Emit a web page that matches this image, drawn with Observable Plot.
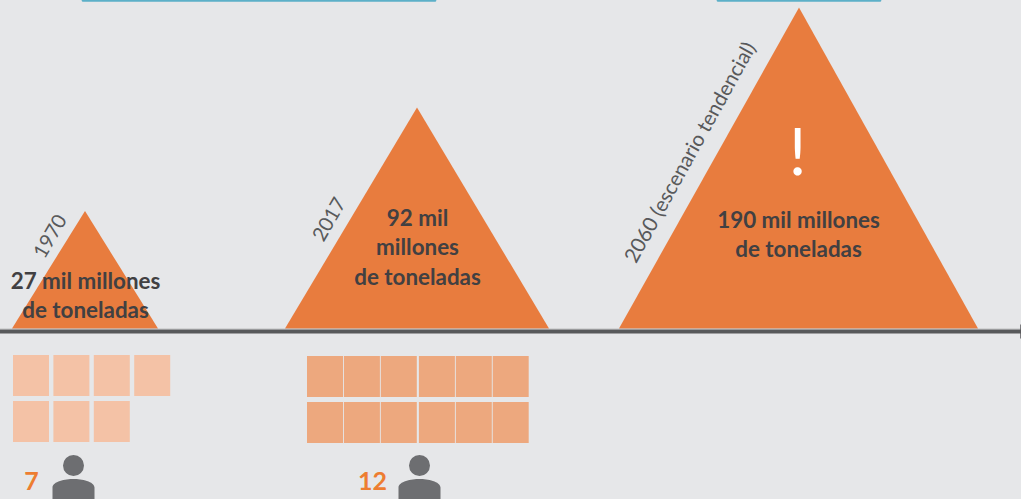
<!DOCTYPE html>
<html lang="es">
<head>
<meta charset="utf-8">
<title>Extracción de materiales y población</title>
<script src="https://cdn.jsdelivr.net/npm/d3@7"></script>
<script src="https://cdn.jsdelivr.net/npm/@observablehq/plot@0.6"></script>
<style>
  html, body { margin: 0; padding: 0; background: #e6e7e9; overflow: hidden; }
  svg { display: block; }
</style>
</head>
<body>
<div id="chart"></div>
<script>
// Extracted materials per period, in thousands of millions of tonnes
const periods = ["1970", "2017", "2060 (escenario tendencial)"];
const tonnes = [27, 92, 190];
const tonneLabels = ["27 mil millones\nde toneladas", "92 mil\nmillones\nde toneladas", "190 mil millones\nde toneladas"];

// World population per period, in thousands of millions
const people = [7, 12];

// Diagram layout, in page units
const pyramidLeft = [12, 285, 619];
const pyramidApex = [85, 417, 799];
const pyramidRight = [158, 549, 978];
const W = 1021, H = 499, splitY = 345;

const FONT = "Lato, 'Open Sans', sans-serif";
const ORANGE = "#e87c3e";
const DARK = "#414042";
const GREY = "#58595b";

const xScale = {domain: [0, W], range: [0, W], axis: null};

// Pyramid outlines: base corner, apex, base corner
const outline = tonnes.flatMap((t, i) => [
  {i, x: pyramidLeft[i], t: 0},
  {i, x: pyramidApex[i], t},
  {i, x: pyramidRight[i], t: 0}
]);

const labelPlacement = [
  {x: 85, dy: 294, size: 22.4, lh: 1.3},
  {x: 417, dy: 245.5, size: 22.4, lh: 1.32},
  {x: 798, dy: 232.5, size: 22.4, lh: 1.3}
];
const periodPlacement = [
  {x: 50, dy: 236, size: 20, angle: -60},
  {x: 329, dy: 219, size: 20, angle: -60},
  {x: 690, dy: 152, size: 20.6, angle: -61}
];

const upperPanel = Plot.plot({
  width: W, height: splitY,
  margin: 0,
  style: {background: "#e6e7e9"},
  x: xScale,
  y: {type: "pow", exponent: 0.515, domain: [0, 190], range: [328.5, 7.5], axis: null},
  marks: [
    // Lower edges of the headings sitting above this panel
    Plot.ruleY([190], {x1: 83, x2: 435, dy: -7.5, stroke: "#5cb0c8", strokeWidth: 2.6, strokeLinecap: "round"}),
    Plot.ruleY([190], {x1: 718, x2: 880, dy: -7.5, stroke: "#5cb0c8", strokeWidth: 2.6, strokeLinecap: "round"}),
    Plot.areaY(outline, {x: "x", y: "t", z: "i", fill: ORANGE, curve: "linear"}),
    // Time axis with its closing tick
    Plot.ruleY([0], {dy: 2.8, stroke: GREY, strokeWidth: 3.4}),
    Plot.ruleY([0], {dy: 0.4, stroke: "#9a9b9d", strokeWidth: 1.2}),
    Plot.ruleX([1020.5], {y1: 0, y2: 0, dy: 3, insetTop: -7, insetBottom: -7, stroke: GREY, strokeWidth: 1.5}),
    ...periods.map((p, i) => Plot.text([p], {
      text: d => d,
      x: () => periodPlacement[i].x,
      frameAnchor: "top",
      dy: periodPlacement[i].dy,
      rotate: periodPlacement[i].angle,
      lineAnchor: "middle",
      fontFamily: FONT,
      fontSize: periodPlacement[i].size,
      fill: GREY
    })),
    ...tonneLabels.map((l, i) => Plot.text([l], {
      text: d => d,
      x: () => labelPlacement[i].x,
      frameAnchor: "top",
      dy: labelPlacement[i].dy,
      lineAnchor: "middle",
      lineHeight: labelPlacement[i].lh,
      fontFamily: FONT,
      fontWeight: 700,
      fontSize: labelPlacement[i].size,
      fill: DARK
    })),
    Plot.text(["!"], {
      text: d => d,
      x: () => 797,
      frameAnchor: "top",
      dy: 153,
      lineAnchor: "middle",
      fontFamily: FONT,
      fontSize: 66,
      fill: "#ffffff"
    })
  ]
});

// One square per thousand million people, filled row by row
const blocks = [
  {originX: 13, originY: 355, pitchX: i => i * 40.4, size: 36, fill: "#f4c2a6", columns: 4},
  {originX: 307, originY: 356, pitchX: i => i * 36.9 + (i >= 3 ? 1.2 : 0), size: 36, fill: "#eda87e", columns: 6}
];
const squares = people.flatMap((count, g) => d3.range(count).map(i => {
  const b = blocks[g];
  const col = i % b.columns, row = Math.floor(i / b.columns);
  const x1 = b.originX + b.pitchX(col), y1 = b.originY + row * 46;
  return {x1, x2: x1 + b.size, y1, y2: y1 + 41, fill: b.fill};
}));

// Person pictogram: head and shoulders around the dot's position
const person = {
  draw(ctx, size) {
    const r = Math.sqrt(size / Math.PI), u = r / 10.5;
    ctx.moveTo(r, 0);
    ctx.arc(0, 0, r, 0, 2 * Math.PI);
    ctx.closePath();
    ctx.moveTo(-21 * u, 40 * u);
    ctx.lineTo(-21 * u, 22 * u);
    ctx.bezierCurveTo(-21 * u, 16 * u, -8 * u, 13.5 * u, 0, 13.5 * u);
    ctx.bezierCurveTo(8 * u, 13.5 * u, 21 * u, 16 * u, 21 * u, 22 * u);
    ctx.lineTo(21 * u, 40 * u);
    ctx.closePath();
  }
};
const personX = [73, 419];
const countX = [31, 372];

const lowerPanel = Plot.plot({
  width: W, height: H - splitY,
  margin: 0,
  style: {background: "#e6e7e9"},
  x: xScale,
  y: {domain: [splitY, H], range: [0, H - splitY], axis: null},
  marks: [
    Plot.rect(squares, {x1: "x1", x2: "x2", y1: "y1", y2: "y2", fill: "fill"}),
    Plot.dot(people, {
      x: (d, i) => personX[i],
      y: () => 465,
      r: 10.5,
      symbol: person,
      fill: "#6d6e71",
      stroke: "none"
    }),
    Plot.text(people, {
      text: d => String(d),
      x: (d, i) => countX[i],
      y: () => 481,
      fontFamily: FONT,
      fontWeight: 700,
      fontSize: 25,
      fill: "#ed7d31"
    })
  ]
});

document.getElementById("chart").append(upperPanel, lowerPanel);
</script>
</body>
</html>
